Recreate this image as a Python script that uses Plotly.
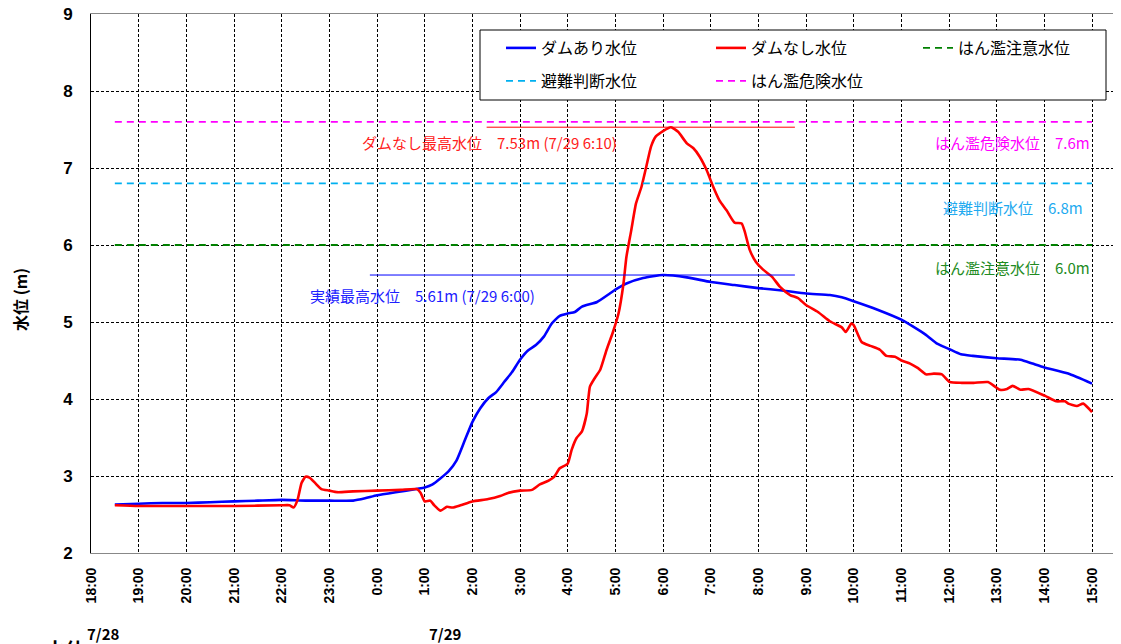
import plotly.graph_objects as go

# ---------------- data ----------------
DAY1 = "2022-07-28"
DAY2 = "2022-07-29"

times_with_dam = ["18:30", "19:00", "19:30", "20:00", "20:30", "21:00", "21:30", "22:00", "22:30",
                  "23:00", "23:30", "23:45", "00:00", "00:30", "01:00", "01:10", "01:20", "01:30",
                  "01:40", "01:50", "02:00", "02:10", "02:20", "02:30", "02:40", "02:50", "03:00",
                  "03:10", "03:20", "03:30", "03:40", "03:50", "04:00", "04:09", "04:18", "04:37",
                  "04:53", "05:00", "05:14", "05:35", "06:00", "06:30", "07:00", "07:30", "08:00",
                  "08:30", "09:00", "09:30", "09:45", "10:00", "10:30", "11:00", "11:30", "11:45",
                  "12:00", "12:15", "12:30", "13:00", "13:30", "13:45", "14:00", "14:30", "15:00"]
level_with_dam = [2.63, 2.64, 2.65, 2.65, 2.66, 2.67, 2.68, 2.69, 2.68,
                  2.68, 2.68, 2.71, 2.75, 2.80, 2.85, 2.89, 2.97, 3.06,
                  3.20, 3.45, 3.70, 3.88, 4.01, 4.09, 4.22, 4.35, 4.51,
                  4.63, 4.70, 4.81, 4.98, 5.08, 5.11, 5.13, 5.20, 5.26,
                  5.37, 5.42, 5.50, 5.57, 5.61, 5.58, 5.52, 5.48, 5.44,
                  5.41, 5.37, 5.35, 5.32, 5.27, 5.16, 5.03, 4.84, 4.72,
                  4.65, 4.58, 4.56, 4.53, 4.51, 4.46, 4.41, 4.33, 4.20]

times_without_dam = ["18:30", "19:00", "20:00", "21:00", "22:00", "22:10", "22:15", "22:20", "22:25",
                     "22:30", "22:35", "22:42", "22:50", "23:00", "23:10", "23:30", "00:00", "00:30",
                     "00:50", "00:55", "01:00", "01:07", "01:12", "01:20", "01:28", "01:35", "01:45",
                     "02:00", "02:20", "02:35", "02:45", "03:00", "03:15", "03:25", "03:36", "03:43",
                     "03:50", "04:00", "04:05", "04:11", "04:18", "04:24", "04:28", "04:34", "04:41",
                     "04:49", "04:57", "05:04", "05:10", "05:14", "05:20", "05:26", "05:33", "05:39",
                     "05:45", "05:51", "06:00", "06:10", "06:19", "06:30", "06:38", "06:46", "06:55",
                     "07:03", "07:11", "07:20", "07:30", "07:39", "07:43", "07:49", "07:57", "08:06",
                     "08:17", "08:27", "08:40", "08:50", "09:00", "09:15", "09:30", "09:45", "09:50",
                     "09:57", "10:00", "10:10", "10:21", "10:33", "10:41", "10:52", "11:00", "11:11",
                     "11:21", "11:31", "11:41", "11:51", "12:01", "12:16", "12:31", "12:49", "13:04",
                     "13:13", "13:20", "13:30", "13:40", "14:01", "14:15", "14:26", "14:30", "14:41",
                     "14:49", "15:00"]
level_without_dam = [2.62, 2.61, 2.61, 2.61, 2.62, 2.62, 2.59, 2.69, 2.91,
                     2.99, 2.98, 2.91, 2.83, 2.81, 2.79, 2.80, 2.81, 2.82,
                     2.83, 2.78, 2.67, 2.68, 2.62, 2.55, 2.60, 2.59, 2.62,
                     2.67, 2.70, 2.74, 2.78, 2.81, 2.82, 2.89, 2.94, 2.99,
                     3.10, 3.16, 3.34, 3.49, 3.58, 3.81, 4.16, 4.27, 4.38,
                     4.64, 4.87, 5.11, 5.48, 5.85, 6.19, 6.54, 6.76, 7.02,
                     7.28, 7.41, 7.48, 7.53, 7.47, 7.32, 7.26, 7.15, 6.97,
                     6.76, 6.58, 6.45, 6.29, 6.28, 6.17, 5.94, 5.78, 5.68,
                     5.59, 5.46, 5.35, 5.31, 5.22, 5.13, 5.01, 4.93, 4.87,
                     4.98, 4.96, 4.74, 4.69, 4.64, 4.56, 4.55, 4.50, 4.46,
                     4.40, 4.32, 4.33, 4.32, 4.22, 4.21, 4.21, 4.22, 4.12,
                     4.13, 4.17, 4.12, 4.13, 4.04, 3.97, 3.97, 3.94, 3.91,
                     3.94, 3.83]

threshold_names = ["はん濫注意水位", "避難判断水位", "はん濫危険水位"]
threshold_values = [6.0, 6.8, 7.6]
threshold_colors = ["#008000", "#00B0F0", "#FF00FF"]
threshold_text_colors = ["#228B22", "#1EAAF0", "#FF00FF"]
threshold_labels = ["はん濫注意水位　6.0m", "避難判断水位　6.8m", "はん濫危険水位　7.6m"]
threshold_span = ["18:30", "15:00"]

peak_without_label = "ダムなし最高水位　7.53m (7/29 6:10)"
peak_without_value = 7.53
peak_without_span = ["02:18", "08:46"]
peak_with_label = "実績最高水位　5.61m (7/29 6:00)"
peak_with_value = 5.61
peak_with_span = ["23:51", "08:46"]

hour_ticks_start = "18:00"
x_end = "2022-07-29 15:26:24"
date_labels = ["7/28", "7/29"]


def stamp(t):
    h = int(t.split(":")[0])
    return (DAY1 if h >= 18 else DAY2) + " " + t


JP = "Noto Sans CJK JP"
SANS = "Liberation Sans, Arial, sans-serif"

fig = go.Figure()

fig.add_trace(go.Scatter(x=[stamp(t) for t in times_with_dam], y=level_with_dam, mode="lines",
                         name="ダムあり水位", line=dict(color="#0000FF", width=2.6, shape="spline",
                                                      smoothing=0.5), legend="legend"))
fig.add_trace(go.Scatter(x=[stamp(t) for t in times_without_dam], y=level_without_dam, mode="lines",
                         name="ダムなし水位", line=dict(color="#FF0000", width=2.6, shape="spline",
                                                      smoothing=0.5), legend="legend"))

legend_for = ["legend3", "legend2", "legend2"]
for name, val, col, lg in zip(threshold_names, threshold_values, threshold_colors, legend_for):
    fig.add_trace(go.Scatter(x=[stamp(t) for t in threshold_span], y=[val, val], mode="lines",
                             name=name, line=dict(color=col, width=1.8, dash="7px,5px"), legend=lg))

fig.add_trace(go.Scatter(x=[stamp(t) for t in peak_without_span], y=[peak_without_value] * 2,
                         mode="lines", line=dict(color="#FF0000", width=1), showlegend=False))
fig.add_trace(go.Scatter(x=[stamp(t) for t in peak_with_span], y=[peak_with_value] * 2,
                         mode="lines", line=dict(color="#0000FF", width=1), showlegend=False))

fig.data[3].legendrank = 1
fig.data[4].legendrank = 2

W, H = 1121, 644
L, R, T, B = 91, 8, 14, 91
pw, ph = W - L - R, H - T - B


def px(x):
    return (x - L) / pw


def py(y):
    return (H - B - y) / ph


fig.add_shape(type="rect", xref="paper", yref="paper", x0=px(480), x1=px(1106), y0=py(100), y1=py(30),
              fillcolor="white", line=dict(color="black", width=1), layer="above")

annotations = []
annotations.append(dict(text=peak_without_label, x=stamp("02:21"), y=7.325, xref="x", yref="y",
                        showarrow=False, font=dict(family=JP, size=15, color="#FF2020")))
annotations.append(dict(text=peak_with_label, x=stamp("00:57"), y=5.34, xref="x", yref="y",
                        showarrow=False, font=dict(family=JP, size=15, color="#2020FF")))
label_y = [5.71, 6.49, 7.33]
for lab, ly, col in zip(threshold_labels, label_y, threshold_text_colors):
    annotations.append(dict(text=lab, x=stamp("13:20"), y=ly, xref="x", yref="y", showarrow=False,
                            font=dict(family=JP, size=15, color=col)))
annotations.append(dict(text="水位 (m)", x=px(20), y=py(300), xref="paper", yref="paper",
                        xanchor="center", yanchor="middle", textangle=-90, showarrow=False,
                        font=dict(family=JP, size=16, color="black", weight="bold")))
for lab, cx in zip(date_labels, [103, 445]):
    annotations.append(dict(text=lab, x=px(cx), y=py(633), xref="paper", yref="paper",
                            xanchor="center", yanchor="middle", showarrow=False,
                            font=dict(family=JP, size=15, color="black", weight="bold")))
annotations.append(dict(text="水位", x=px(65), y=py(633), xref="paper", yref="paper",
                        xanchor="center", yanchor="top", showarrow=False,
                        font=dict(family=JP, size=20, color="black", weight="bold")))

leg_common = dict(orientation="h", xanchor="left", yanchor="middle", entrywidth=165,
                  entrywidthmode="pixels", bgcolor="rgba(0,0,0,0)",
                  font=dict(family=JP, size=16, color="black"), traceorder="normal")

fig.update_layout(
    width=W, height=H, margin=dict(l=L, r=R, t=T, b=B, autoexpand=False),
    paper_bgcolor="white", plot_bgcolor="white",
    annotations=annotations,
    legend=dict(x=px(501), y=py(48), **leg_common),
    legend2=dict(x=px(501), y=py(81), **leg_common),
    legend3=dict(x=px(918), y=py(48), **leg_common),
    xaxis=dict(type="date", range=[stamp("18:00"), x_end], tick0=stamp(hour_ticks_start),
               dtick=3600000, tickformat="%-H:%M", tickangle=-90,
               showgrid=True, gridcolor="black", gridwidth=1, griddash="3px,2px",
               showline=True, linecolor="#888888", linewidth=1, mirror=True,
               ticks="", ticklabelstandoff=8, zeroline=False, automargin=False,
               tickfont=dict(family=SANS, size=14, color="black", weight="bold")),
    yaxis=dict(range=[2, 9], dtick=1, tick0=2, showgrid=True, gridcolor="black", gridwidth=1,
               griddash="3px,2px", showline=True, linecolor="black", linewidth=1,
               ticks="", ticklabelstandoff=14, zeroline=False, automargin=False,
               tickfont=dict(family=SANS, size=17, color="black", weight="bold")),
    showlegend=True,
)

fig.write_html("out.html", config={"displayModeBar": False},
               post_script="document.body.style.margin='0';document.body.style.overflow='hidden';")
